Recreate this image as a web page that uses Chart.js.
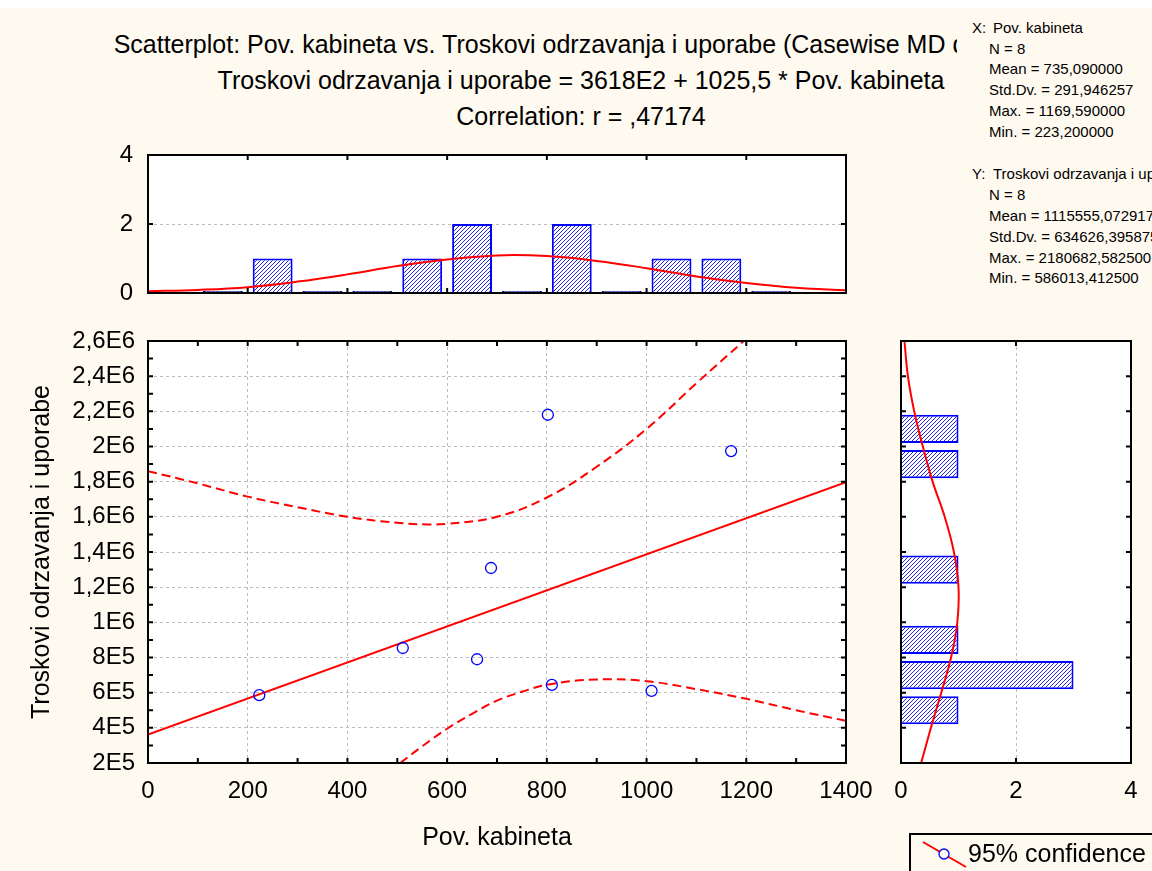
<!DOCTYPE html>
<html>
<head>
<meta charset="utf-8">
<script src="https://cdn.jsdelivr.net/npm/chart.js@4/dist/chart.umd.min.js"></script>
<style>
  body { margin: 0; width: 1152px; height: 871px; position: relative; overflow: hidden;
         background: #fffaf0; font-family: "Liberation Sans", Arial, sans-serif; color: #000; }
  .topstrip { position: absolute; left: 0; top: 0; width: 1152px; height: 8px; background: #fff; }
  .title { position: absolute; left: 0; width: 1162px; text-align: center; font-size: 25px;
           line-height: 28px; white-space: nowrap; }
  canvas { position: absolute; }
  #stats { position: absolute; left: 957px; top: 8px; width: 195px; height: 300px; background: #fffaf0;
           overflow: hidden; white-space: nowrap; font-size: 15px; line-height: 20.9px;
           padding: 9.6px 0 0 15px; box-sizing: border-box; }
  #stats .in { padding-left: 17px; }
  #stats .lab { display: inline-block; width: 21px; }
  #legend { position: absolute; left: 909px; top: 833px; width: 270px; height: 60px;
            border: 2px solid #000; box-sizing: border-box; }
  #legend svg { position: absolute; left: 10px; top: 4px; }
  #legend span { position: absolute; left: 57px; top: 4px; font-size: 25px; line-height: 28px; white-space: nowrap; }
</style>
</head>
<body>
<div class="topstrip"></div>
<div class="title" style="top:30px">Scatterplot: Pov. kabineta vs. Troskovi odrzavanja i uporabe (Casewise MD deletion)</div>
<div class="title" style="top:66px">Troskovi odrzavanja i uporabe = 3618E2 + 1025,5 * Pov. kabineta</div>
<div class="title" style="top:102px">Correlation: r = ,47174</div>

<canvas id="topHist" width="891" height="198" style="left:0;top:125px"></canvas>
<canvas id="main" width="891" height="549" style="left:0;top:311px"></canvas>
<canvas id="rightHist" width="282" height="549" style="left:870px;top:311px"></canvas>

<div id="stats">
  <div><span class="lab">X:</span>Pov. kabineta</div>
  <div class="in">N = 8</div>
  <div class="in">Mean = 735,090000</div>
  <div class="in">Std.Dv. = 291,946257</div>
  <div class="in">Max. = 1169,590000</div>
  <div class="in">Min. = 223,200000</div>
  <div>&nbsp;</div>
  <div><span class="lab">Y:</span>Troskovi odrzavanja i uporabe</div>
  <div class="in">N = 8</div>
  <div class="in">Mean = 1115555,072917</div>
  <div class="in">Std.Dv. = 634626,395875</div>
  <div class="in">Max. = 2180682,582500</div>
  <div class="in">Min. = 586013,412500</div>
</div>

<div id="legend">
  <svg width="48" height="32"><line x1="2" y1="3" x2="45" y2="28" stroke="#f00" stroke-width="2"/>
    <circle cx="23" cy="15" r="5" fill="#fffaf0" stroke="#00f" stroke-width="1.3"/></svg>
  <span>95% confidence</span>
</div>

<script>
// scatter points
const povKabineta = [223.2, 511, 660, 688, 802, 810, 1010, 1169.59];
const troskovi = [586013, 854000, 790000, 1309000, 2180683, 644000, 610000, 1974000];

// regression line end points (3618E2 + 1025,5 * x)
const regX = [0, 1400];
const regY = [361800, 1797500];

// 95% confidence band
const upperX = [0, 100, 200, 300, 400, 500, 560, 600, 700, 800, 900, 1000, 1100, 1195];
const upperY = [1860000, 1790000, 1715000, 1655000, 1600000, 1566000, 1557000, 1560000, 1600000, 1710000, 1885000, 2100000, 2360000, 2600000];
const lowerX = [506, 550, 600, 650, 700, 750, 800, 900, 1000, 1100, 1200, 1300, 1400];
const lowerY = [200000, 295000, 395000, 480000, 555000, 605000, 645000, 675000, 665000, 620000, 565000, 500000, 440000];

// histogram of Pov. kabineta
const xBinCenters = [150, 250, 350, 450, 550, 650, 750, 850, 950, 1050, 1150, 1250];
const xBinCounts = [0, 1, 0, 0, 1, 2, 0, 2, 0, 1, 1, 0];
const xCurveX = [0, 100, 200, 300, 400, 500, 600, 700, 800, 900, 1000, 1100, 1200, 1300, 1400];
const xCurveCount = [0.05, 0.09, 0.17, 0.33, 0.54, 0.78, 0.97, 1.09, 1.07, 0.93, 0.72, 0.48, 0.29, 0.15, 0.08];

// histogram of Troskovi odrzavanja i uporabe
const yBinCenters = [500000, 700000, 900000, 1100000, 1300000, 1500000, 1700000, 1900000, 2100000];
const yBinCounts = [1, 3, 1, 0, 1, 0, 0, 1, 1];
const yCurveY = [200000, 400000, 600000, 800000, 1000000, 1200000, 1400000, 1600000, 1800000, 2000000, 2200000, 2400000, 2600000];
const yCurveCount = [0.35, 0.52, 0.70, 0.87, 0.98, 1.0, 0.92, 0.76, 0.55, 0.38, 0.23, 0.12, 0.06];

// tick labels
const xTickLabels = ['0', '200', '400', '600', '800', '1000', '1200', '1400'];
const yTickLabels = ['2E5', '4E5', '6E5', '8E5', '1E6', '1,2E6', '1,4E6', '1,6E6', '1,8E6', '2E6', '2,2E6', '2,4E6', '2,6E6'];
const countTickLabels = ['0', '2', '4'];

Chart.defaults.font.family = '"Liberation Sans", Arial, sans-serif';
Chart.defaults.color = '#000';

const RED = '#ff0000';
const BLUE = '#0000ff';
const GRID = '#bdbdbd';
const TICK_FONT = { size: 24 };
const TITLE_FONT = { size: 25 };

// blue "////" hatching, drawn pixel by pixel so it stays crisp
function hatch() {
  const c = document.createElement('canvas');
  c.width = 4; c.height = 4;
  const g = c.getContext('2d');
  g.fillStyle = '#fff';
  g.fillRect(0, 0, 4, 4);
  g.fillStyle = '#2424d8';
  for (let x = 0; x < 4; x++) {
    g.fillRect(x, 3 - x, 1, 1);
  }
  return g.createPattern(c, 'repeat');
}
const hatchFill = hatch();

// white plot area, black frame and inward tick marks
const framePlugin = {
  id: 'frame',
  beforeDraw(chart) {
    const { ctx, chartArea: a } = chart;
    ctx.save();
    ctx.fillStyle = '#fff';
    ctx.fillRect(a.left, a.top, a.width, a.height);
    ctx.restore();
  },
  afterDraw(chart) {
    const { ctx, chartArea: a, scales } = chart;
    const len = 5;
    ctx.save();
    ctx.strokeStyle = '#000';
    ctx.lineWidth = 2;
    ctx.beginPath();
    scales.x.ticks.forEach(t => {
      const px = scales.x.getPixelForValue(t.value);
      if (px <= a.left + 1 || px >= a.right - 1) return;
      ctx.moveTo(px, a.bottom); ctx.lineTo(px, a.bottom - len);
      ctx.moveTo(px, a.top); ctx.lineTo(px, a.top + len);
    });
    scales.y.ticks.forEach(t => {
      const py = scales.y.getPixelForValue(t.value);
      if (py <= a.top + 1 || py >= a.bottom - 1) return;
      ctx.moveTo(a.left, py); ctx.lineTo(a.left + len, py);
      ctx.moveTo(a.right, py); ctx.lineTo(a.right - len, py);
    });
    ctx.stroke();
    ctx.strokeRect(a.left, a.top, a.width, a.height);
    ctx.restore();
  }
};

const common = {
  responsive: false,
  animation: false,
  devicePixelRatio: 1,
  plugins: { legend: { display: false }, tooltip: { enabled: false } }
};

function gridAt(step, lo, hi) {
  return ctx => {
    const v = ctx.tick.value;
    return (Math.abs(v % step) < 1e-6 && v > lo && v < hi) ? GRID : 'rgba(0,0,0,0)';
  };
}

// main scatterplot
new Chart(document.getElementById('main'), {
  type: 'scatter',
  data: {
    datasets: [
      {
        data: povKabineta.map((x, i) => ({ x, y: troskovi[i] })),
        pointRadius: 5.5, pointBorderWidth: 1.3,
        pointBorderColor: BLUE, pointBackgroundColor: 'rgba(0,0,0,0)', order: 0
      },
      {
        data: regX.map((x, i) => ({ x, y: regY[i] })),
        showLine: true, borderColor: RED, borderWidth: 2, pointRadius: 0, order: 1
      },
      {
        data: upperX.map((x, i) => ({ x, y: upperY[i] })),
        showLine: true, borderColor: RED, borderWidth: 2, borderDash: [9, 5], pointRadius: 0,
        tension: 0.4, order: 2
      },
      {
        data: lowerX.map((x, i) => ({ x, y: lowerY[i] })),
        showLine: true, borderColor: RED, borderWidth: 2, borderDash: [9, 5], pointRadius: 0,
        tension: 0.4, order: 3
      }
    ]
  },
  options: {
    ...common,
    layout: { padding: { left: 0, top: 30, right: 45, bottom: 0 } },
    scales: {
      x: {
        type: 'linear', min: 0, max: 1400,
        afterFit: s => { s.height = 97; },
        ticks: {
          stepSize: 100, autoSkip: false, maxRotation: 0, font: TICK_FONT, padding: 13.6,
          callback: v => (v % 200 === 0 ? xTickLabels[Math.round(v / 200)] : '')
        },
        grid: { drawTicks: false, color: gridAt(200, 0, 1400), lineWidth: 1 },
        border: { display: false, dash: [3, 3] },
        title: { display: true, text: 'Pov. kabineta', font: TITLE_FONT, padding: { top: 0, bottom: 7 } }
      },
      y: {
        type: 'linear', min: 200000, max: 2600000,
        afterFit: s => { s.width = 148; },
        ticks: {
          stepSize: 100000, autoSkip: false, font: TICK_FONT, padding: 13,
          callback: v => (v % 200000 === 0 ? yTickLabels[Math.round((v - 200000) / 200000)] : '')
        },
        grid: { drawTicks: false, color: gridAt(200000, 200000, 2600000), lineWidth: 1 },
        border: { display: false, dash: [3, 3] },
        title: { display: true, text: 'Troskovi odrzavanja i uporabe', font: TITLE_FONT, padding: { top: 27, bottom: 0 } }
      }
    }
  },
  plugins: [framePlugin]
});

// histogram above (counts of Pov. kabineta)
new Chart(document.getElementById('topHist'), {
  type: 'bar',
  data: {
    datasets: [
      {
        type: 'line',
        data: xCurveX.map((x, i) => ({ x, y: xCurveCount[i] })),
        borderColor: RED, borderWidth: 2, pointRadius: 0, tension: 0.4, order: 0
      },
      {
        data: xBinCenters.map((x, i) => ({ x, y: xBinCounts[i] })),
        backgroundColor: hatchFill,
        borderColor: ctx => (ctx.raw && ctx.raw.y === 0 ? '#000080' : BLUE),
        borderWidth: 2, minBarLength: 2,
        barPercentage: 1, categoryPercentage: 0.8, order: 1
      }
    ]
  },
  options: {
    ...common,
    layout: { padding: { left: 0, top: 30, right: 45, bottom: 13 } },
    scales: {
      x: {
        type: 'linear', min: 0, max: 1400, offset: false,
        afterFit: s => { s.height = 17; },
        ticks: { stepSize: 200, display: false },
        grid: { display: false }
      },
      y: {
        type: 'linear', min: 0, max: 4,
        afterFit: s => { s.width = 148; },
        ticks: { stepSize: 2, font: TICK_FONT, padding: 15, callback: v => countTickLabels[v / 2] },
        grid: { drawTicks: false, color: gridAt(2, 0, 4), lineWidth: 1 },
        border: { display: false, dash: [3, 3] }
      }
    }
  },
  plugins: [framePlugin]
});

// histogram on the right (counts of Troskovi)
new Chart(document.getElementById('rightHist'), {
  type: 'bar',
  data: {
    datasets: [
      {
        type: 'line', indexAxis: 'y',
        data: yCurveY.map((y, i) => ({ x: yCurveCount[i], y })),
        borderColor: RED, borderWidth: 2, pointRadius: 0, tension: 0.4, order: 0
      },
      {
        data: yBinCenters.map((y, i) => ({ x: yBinCounts[i], y })),
        backgroundColor: hatchFill, borderColor: BLUE, borderWidth: 2,
        barPercentage: 1, categoryPercentage: 0.8, order: 1
      }
    ]
  },
  options: {
    ...common,
    indexAxis: 'y',
    layout: { padding: { left: 0, top: 30, right: 21, bottom: 0 } },
    scales: {
      x: {
        type: 'linear', min: 0, max: 4,
        afterFit: s => { s.height = 97; },
        ticks: { stepSize: 2, font: TICK_FONT, padding: 13.6, callback: v => countTickLabels[v / 2] },
        grid: { drawTicks: false, color: gridAt(2, 0, 4), lineWidth: 1 },
        border: { display: false, dash: [3, 3] }
      },
      y: {
        type: 'linear', min: 200000, max: 2600000, offset: false,
        afterFit: s => { s.width = 31; },
        ticks: { stepSize: 200000, display: false },
        grid: { display: false }
      }
    }
  },
  plugins: [framePlugin]
});
</script>
</body>
</html>
